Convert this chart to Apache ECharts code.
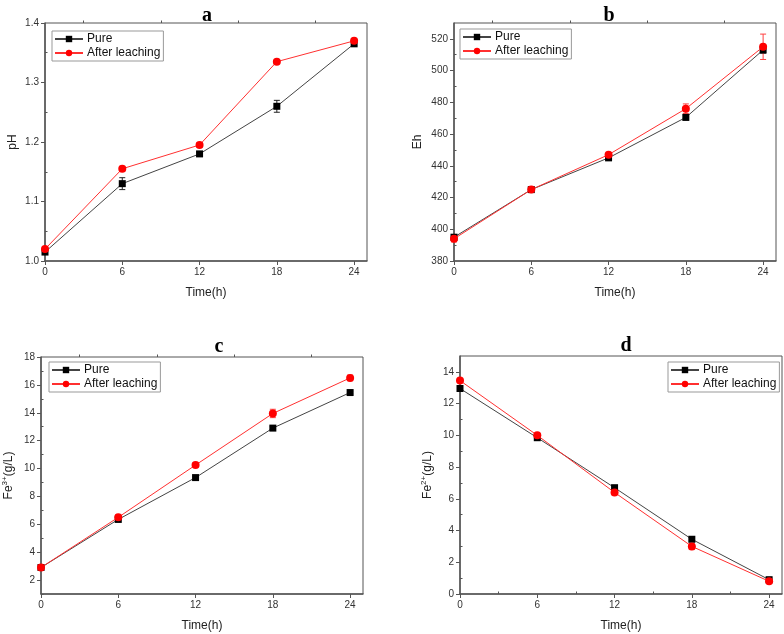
<!DOCTYPE html>
<html>
<head>
<meta charset="utf-8">
<script src="https://cdn.jsdelivr.net/npm/echarts@6/dist/echarts.min.js"></script>
<style>
html,body{margin:0;padding:0;background:#fff;}
#chart{width:784px;height:634px;}
</style>
</head>
<body>
<div id="chart"></div>
<script>
// ---- data ----
const hours = [0, 6, 12, 18, 24];
const xTickLabels = [0, 6, 12, 18, 24];
const xMinorTicks = [3, 9, 15, 21];
const seriesNames = ['Pure', 'After leaching'];
const panelTitles = ['a', 'b', 'c', 'd'];
const xAxisName = 'Time(h)';

// a: pH
const pHPure = [1.015, 1.13, 1.18, 1.26, 1.365];
const pHPureErr = [0.004, 0.01, 0.003, 0.01, 0.003];
const pHAfter = [1.02, 1.155, 1.195, 1.335, 1.37];
const pHAfterErr = [0.003, 0.004, 0.004, 0.003, 0.003];
const pHTicks = [1.0, 1.1, 1.2, 1.3, 1.4];
const pHMinor = [1.05, 1.15, 1.25, 1.35];

// b: Eh
const ehPure = [395, 425, 445, 470.5, 513];
const ehPureErr = [1.5, 1, 1, 1.5, 2];
const ehAfter = [394, 425, 447, 476, 515];
const ehAfterErr = [2, 1, 1, 3, 8];
const ehTicks = [380, 400, 420, 440, 460, 480, 500, 520];
const ehMinor = [390, 410, 430, 450, 470, 490, 510];

// c: Fe3+
const fe3Pure = [2.9, 6.35, 9.35, 12.9, 15.45];
const fe3PureErr = [0.1, 0.1, 0.1, 0.1, 0.1];
const fe3After = [2.9, 6.5, 10.25, 13.95, 16.5];
const fe3AfterErr = [0.1, 0.15, 0.15, 0.3, 0.2];
const fe3Ticks = [2, 4, 6, 8, 10, 12, 14, 16, 18];
const fe3Minor = [1, 3, 5, 7, 9, 11, 13, 15, 17];

// d: Fe2+
const fe2Pure = [12.95, 9.85, 6.7, 3.45, 0.9];
const fe2PureErr = [0.1, 0.1, 0.1, 0.1, 0.15];
const fe2After = [13.45, 10.0, 6.4, 3.0, 0.8];
const fe2AfterErr = [0.1, 0.1, 0.15, 0.2, 0.1];
const fe2Ticks = [0, 2, 4, 6, 8, 10, 12, 14];
const fe2Minor = [1, 3, 5, 7, 9, 11, 13];

const panels = [
  { pure: pHPure, pureErr: pHPureErr, after: pHAfter, afterErr: pHAfterErr,
    yMin: 1.0, yMax: 1.4, ticks: pHTicks, minor: pHMinor, fmt: v => v.toFixed(1),
    yName: 'pH', nameGap: 26,
    grid: { left: 45, top: 23, width: 322, height: 238 },
    title: { left: 202, top: 1 },
    legend: { left: 52, top: 31 } },
  { pure: ehPure, pureErr: ehPureErr, after: ehAfter, afterErr: ehAfterErr,
    yMin: 380, yMax: 530, ticks: ehTicks, minor: ehMinor, fmt: v => String(v),
    yName: 'Eh', nameGap: 30,
    grid: { left: 454, top: 23, width: 322, height: 238 },
    title: { left: 604, top: 1 },
    legend: { left: 460, top: 29 } },
  { pure: fe3Pure, pureErr: fe3PureErr, after: fe3After, afterErr: fe3AfterErr,
    yMin: 1, yMax: 18, ticks: fe3Ticks, minor: fe3Minor, fmt: v => String(v),
    yName: '{a|Fe}{s|3+}{a|(g/L)}', nameGap: 24,
    grid: { left: 41, top: 357, width: 322, height: 237 },
    title: { left: 214, top: 332 },
    legend: { left: 49, top: 362 } },
  { pure: fe2Pure, pureErr: fe2PureErr, after: fe2After, afterErr: fe2AfterErr,
    yMin: 0, yMax: 15, ticks: fe2Ticks, minor: fe2Minor, fmt: v => String(v),
    yName: '{a|Fe}{s|2+}{a|(g/L)}', nameGap: 24,
    grid: { left: 460, top: 356, width: 322, height: 238 },
    title: { left: 621, top: 331 },
    legend: { left: 668, top: 362 } }
];

const AXIS_COLOR = '#555';
const LABEL_COLOR = '#333';
const FONT = 'Liberation Sans, Arial, sans-serif';

const option = {
  backgroundColor: '#fff',
  animation: false,
  title: [], grid: [], xAxis: [], yAxis: [], legend: [], series: []
};

function errSeries(name, gi, xs, ys, errs, color) {
  return {
    type: 'custom', name: name, xAxisIndex: gi * 2, yAxisIndex: gi * 2, z: 3,
    silent: true,
    data: xs.map((x, i) => [x, ys[i] - errs[i], ys[i] + errs[i]]),
    renderItem: function (params, api) {
      const x = api.value(0);
      const lo = api.coord([x, api.value(1)]);
      const hi = api.coord([x, api.value(2)]);
      const w = 3;
      const st = { stroke: color, lineWidth: 1 };
      return { type: 'group', children: [
        { type: 'line', shape: { x1: lo[0], y1: lo[1], x2: hi[0], y2: hi[1] }, style: st },
        { type: 'line', shape: { x1: lo[0] - w, y1: lo[1], x2: lo[0] + w, y2: lo[1] }, style: st },
        { type: 'line', shape: { x1: hi[0] - w, y1: hi[1], x2: hi[0] + w, y2: hi[1] }, style: st }
      ]};
    }
  };
}

panels.forEach((p, gi) => {
  option.grid.push(Object.assign({ show: true, borderColor: AXIS_COLOR, borderWidth: 1, containLabel: false }, p.grid));
  option.title.push({
    text: panelTitles[gi], left: p.title.left, top: p.title.top, textAlign: 'center',
    textStyle: { fontFamily: 'Liberation Serif, Times New Roman, serif', fontWeight: 'bold', fontSize: 20, color: '#000' }
  });
  option.xAxis.push({
    type: 'value', gridIndex: gi, min: 0, max: 25,
    name: xAxisName, nameLocation: 'middle', nameGap: 26,
    nameTextStyle: { fontFamily: FONT, fontSize: 12, color: '#222' },
    axisLine: { show: true, lineStyle: { color: AXIS_COLOR, width: 1.5 } },
    axisTick: { show: true, length: 4, customValues: xTickLabels, lineStyle: { color: AXIS_COLOR, width: 1 } },
    axisLabel: { show: true, customValues: xTickLabels, fontFamily: FONT, fontSize: 10, color: LABEL_COLOR, margin: 6 },
    splitLine: { show: false }
  });
  option.xAxis.push({
    type: 'value', gridIndex: gi, min: 0, max: 25,
    axisLine: { show: false },
    axisTick: { show: true, length: 2.5, customValues: xMinorTicks, lineStyle: { color: AXIS_COLOR, width: 1 } },
    axisLabel: { show: false },
    splitLine: { show: false }
  });
  option.yAxis.push({
    type: 'value', gridIndex: gi, min: p.yMin, max: p.yMax,
    name: p.yName, nameLocation: 'middle', nameGap: p.nameGap, nameRotate: 90,
    nameTextStyle: { fontFamily: FONT, fontSize: 12, color: '#222',
      rich: { a: { fontFamily: FONT, fontSize: 12, color: '#222', lineHeight: 16 },
              s: { fontFamily: FONT, fontSize: 8, color: '#222', verticalAlign: 'top', lineHeight: 16 } } },
    axisLine: { show: true, lineStyle: { color: AXIS_COLOR, width: 1.5 } },
    axisTick: { show: true, length: 4, customValues: p.ticks, lineStyle: { color: AXIS_COLOR, width: 1 } },
    axisLabel: { show: true, customValues: p.ticks, formatter: p.fmt, fontFamily: FONT, fontSize: 10, color: LABEL_COLOR, margin: 6 },
    splitLine: { show: false }
  });
  option.yAxis.push({
    type: 'value', gridIndex: gi, min: p.yMin, max: p.yMax,
    axisLine: { show: false },
    axisTick: { show: true, length: 2.5, customValues: p.minor, lineStyle: { color: AXIS_COLOR, width: 1 } },
    axisLabel: { show: false },
    splitLine: { show: false }
  });
  option.legend.push({
    data: seriesNames, orient: 'vertical', left: p.legend.left, top: p.legend.top,
    borderColor: '#999', borderWidth: 1, padding: [2, 3, 2, 2],
    itemWidth: 28, itemHeight: 8, itemGap: 2,
    textStyle: { fontFamily: FONT, fontSize: 12, color: '#111', padding: [0, 0, 0, -1] },
    selectedMode: false
  });
  option.series.push(errSeries('errPure' + gi, gi, hours, p.pure, p.pureErr, '#222'));
  option.series.push(errSeries('errAfter' + gi, gi, hours, p.after, p.afterErr, '#ff4040'));
  option.series.push({
    type: 'line', name: seriesNames[0], xAxisIndex: gi * 2, yAxisIndex: gi * 2,
    data: hours.map((h, i) => [h, p.pure[i]]),
    symbol: 'rect', symbolSize: 7, showAllSymbol: true,
    itemStyle: { color: '#000' }, lineStyle: { color: '#444', width: 1 }, z: 4
  });
  option.series.push({
    type: 'line', name: seriesNames[1], xAxisIndex: gi * 2, yAxisIndex: gi * 2,
    data: hours.map((h, i) => [h, p.after[i]]),
    symbol: 'circle', symbolSize: 8, showAllSymbol: true,
    itemStyle: { color: '#ff0000' }, lineStyle: { color: '#ff3030', width: 1 }, z: 5
  });
});

const chart = echarts.init(document.getElementById('chart'), null, { renderer: 'canvas' });
chart.setOption(option);
</script>
</body>
</html>
